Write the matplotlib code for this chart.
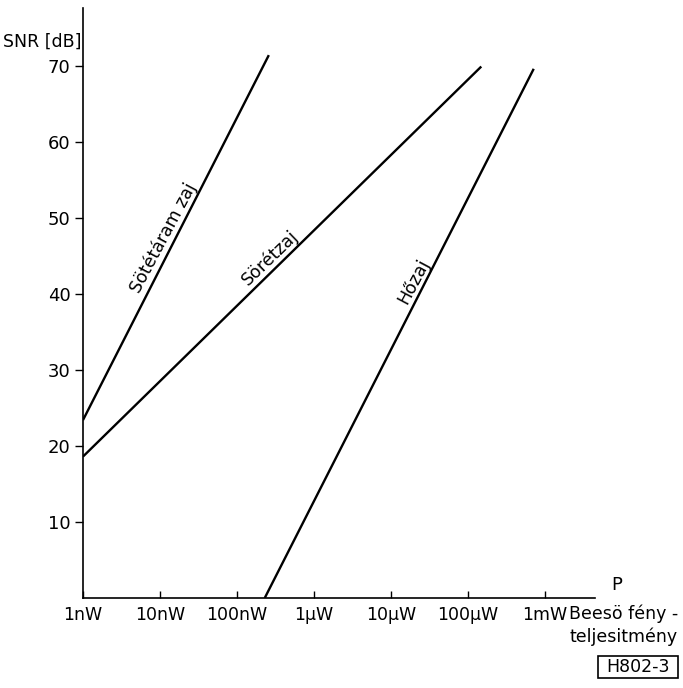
import matplotlib
matplotlib.use("Agg")
import matplotlib.pyplot as plt
from matplotlib.patches import Rectangle

# ---- data ----
tick_powers = [1e-9, 1e-8, 1e-7, 1e-6, 1e-5, 1e-4, 1e-3]
tick_labels = ["1nW", "10nW", "100nW", "1\u00b5W", "10\u00b5W", "100\u00b5W", "1mW"]
y_ticks = [10, 20, 30, 40, 50, 60, 70]

sotetaram_P = [1e-9, 2.6e-7]
sotetaram_snr = [23.4, 71.4]

soretzaj_P = [1e-9, 1.5e-4]
soretzaj_snr = [18.6, 69.9]

hozaj_P = [2.3e-7, 7.2e-4]
hozaj_snr = [0.0, 69.6]

plt.rcParams['font.family'] = ['DejaVu Sans']

fig = plt.figure(figsize=(6.83, 6.88), dpi=100)
ax = fig.add_axes([0.1215, 0.1308, 0.7496, 0.8576])

lw = 1.7
ax.plot(sotetaram_P, sotetaram_snr, color='black', lw=lw, solid_capstyle='butt')
ax.plot(soretzaj_P, soretzaj_snr, color='black', lw=lw, solid_capstyle='butt')
ax.plot(hozaj_P, hozaj_snr, color='black', lw=lw, solid_capstyle='butt')

ax.set_xscale('log')
ax.set_xlim(1e-9, 4.5e-3)
ax.set_ylim(0, 77.6)

for s in ['top', 'right']:
    ax.spines[s].set_visible(False)
for s in ['left', 'bottom']:
    ax.spines[s].set_linewidth(1.2)

ax.set_xticks(tick_powers)
ax.set_xticklabels(tick_labels)
ax.xaxis.set_minor_locator(matplotlib.ticker.NullLocator())
ax.tick_params(axis='x', direction='in', length=5, width=1.0, labelsize=12.5, pad=6)
ax.set_yticks(y_ticks)
ax.set_yticklabels([str(v) for v in y_ticks])
ax.tick_params(axis='y', direction='out', length=6, width=1.0, labelsize=13, pad=3)

# line labels
ax.text(1.12e-8, 47.4, "Sötétáram zaj", rotation=62, ha='center', va='center', fontsize=12.5)
ax.text(2.7e-7, 44.8, "Sörétzaj", rotation=44, ha='center', va='center', fontsize=12.5)
ax.text(2.0e-5, 41.6, "Hőzaj", rotation=62, ha='center', va='center', fontsize=12.5)

# axis labels
fig.text(3 / 683, 1 - 42 / 688, "SNR [dB]", ha='left', va='center', fontsize=12.5)
fig.text(617 / 683, 1 - 585 / 688, "P", ha='center', va='center', fontsize=13)
fig.text(678 / 683, 1 - 614 / 688, "Beesö fény -", ha='right', va='center', fontsize=12.5)
fig.text(678 / 683, 1 - 637 / 688, "teljesitmény", ha='right', va='center', fontsize=12.5)

# figure id box
fig.text(638 / 683, 1 - 667 / 688, "H802-3", ha='center', va='center', fontsize=12.5)
fig.patches.append(Rectangle((598 / 683, 1 - 678 / 688), 80 / 683, 22 / 688,
                             transform=fig.transFigure, fill=False, lw=1.2, ec='black'))

fig.savefig("out.png", dpi=100)
